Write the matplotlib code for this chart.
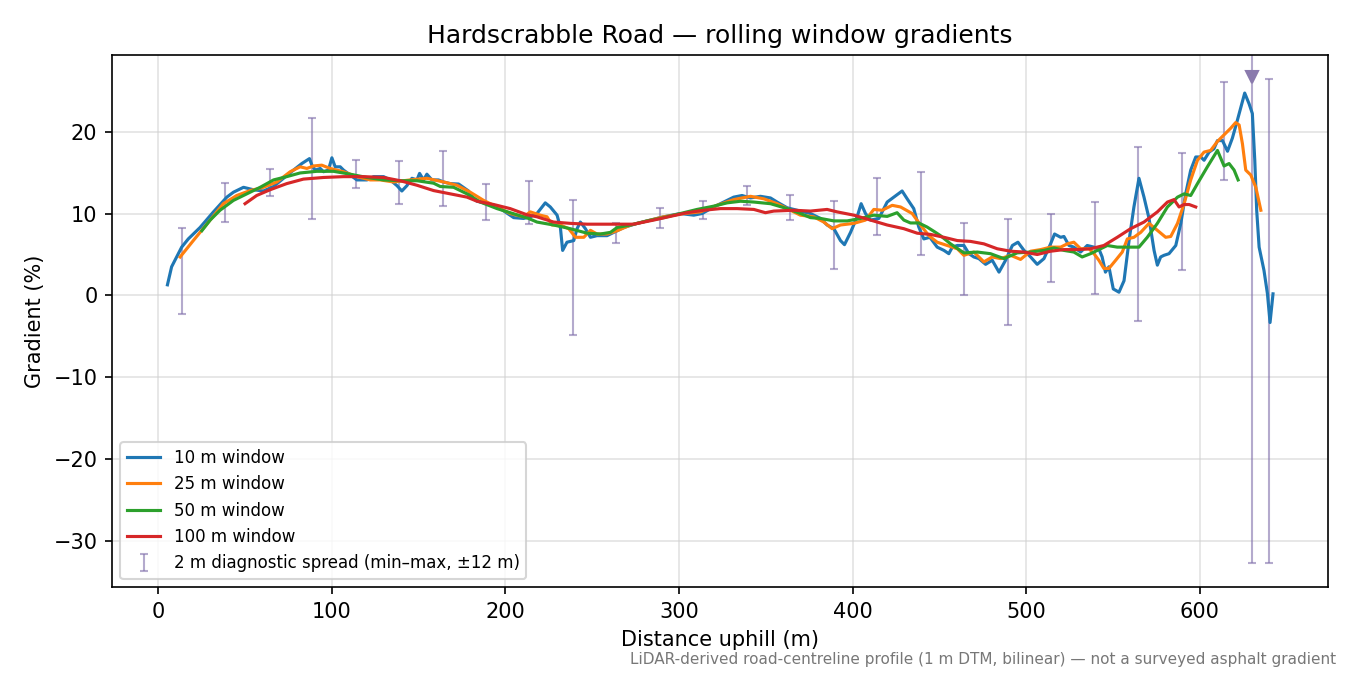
import matplotlib
matplotlib.use('Agg')
import matplotlib.pyplot as plt
import numpy as np

# rolling-window gradients
x10 = [5.4, 7.8, 10.7, 13.6, 17.4, 24.2, 31.9, 39.6, 43.4, 49.2, 54.9, 60.7, 66.5, 72.2, 78.0, 82.8,
       87.2, 88.6, 90.5, 93.4, 95.3, 98.1, 100.1, 102.0, 104.9, 106.8, 110.6, 114.5, 120.3, 124.1,
       129.9, 133.7, 137.6, 140.4, 143.3, 146.2, 149.1, 150.6, 152.9, 154.8, 157.7, 161.5, 164.4,
       168.3, 173.1, 178.8, 181.7, 183.7, 189.4, 197.1, 204.8, 210.5, 214.4, 218.2, 223.0, 225.9,
       229.8, 231.7, 233.0, 235.5, 239.4, 241.3, 243.2, 246.1, 249.0, 252.8, 258.6, 262.4, 268.2,
       275.9, 283.5, 291.2, 300.8, 308.5, 313.3, 320.0, 325.8, 331.5, 336.3, 341.2, 346.9, 352.7,
       356.5, 362.3, 368.0, 375.7, 381.5, 385.3, 389.2, 393.0, 395.3, 398.8, 402.6, 404.9, 407.4,
       410.3, 415.1, 419.9, 423.7, 428.5, 431.4, 435.2, 438.1, 441.0, 444.5, 448.7, 452.6, 455.4,
       457.4, 460.3, 464.1, 467.0, 469.8, 472.7, 476.6, 480.4, 484.3, 488.1, 492.0, 495.2, 498.7,
       502.5, 506.3, 510.2, 514.0, 516.3, 519.8, 521.7, 524.6, 527.4, 531.3, 535.1, 539.0, 541.8,
       543.7, 545.6, 547.6, 550.1, 553.4, 556.3, 559.2, 562.0, 564.9, 567.8, 570.7, 573.6, 575.5,
       577.4, 579.3, 582.2, 586.1, 589.0, 591.8, 594.7, 597.6, 600.5, 602.4, 605.3, 608.1, 610.1,
       613.0, 615.9, 618.7, 621.6, 625.8, 628.3, 630.2, 631.6, 632.7, 634.1, 636.9, 638.9, 640.4,
       642.1]
g10 = [1.3, 3.5, 4.7, 5.9, 6.9, 8.3, 10.2, 12.0, 12.6, 13.2, 12.9, 12.75, 13.3, 14.3, 15.3, 16.1,
       16.7, 15.9, 15.3, 15.5, 15.1, 15.3, 16.8, 15.7, 15.7, 15.3, 14.7, 14.1, 14.1, 14.5,
       14.5, 14.1, 13.4, 12.75, 13.4, 14.3, 14.1, 14.9, 14.1, 14.8, 14.1, 14.1, 13.85,
       13.65, 13.6, 12.75, 11.8, 11.5, 11.2, 10.6, 9.5, 9.4, 9.6, 10.0, 11.3, 10.8,
       9.8, 8.3, 5.5, 6.5, 6.7, 8.15, 8.96, 8.15, 7.1, 7.3, 7.3, 7.7, 8.3,
       8.8, 9.2, 9.6, 10.0, 9.8, 10.0, 10.8, 11.4, 12.0, 12.2, 11.9, 12.1, 11.9,
       11.4, 10.7, 10.4, 10.0, 9.4, 8.6, 8.15, 6.7, 6.2, 7.7, 9.6, 11.2, 10.0,
       9.2, 9.4, 11.4, 12.0, 12.75, 11.8, 10.6, 8.35, 6.9, 7.1, 5.9, 5.5, 5.1,
       5.9, 6.1, 6.1, 5.1, 4.7, 4.5, 3.8, 4.3, 2.85, 4.3, 6.1, 6.5, 5.5,
       4.7, 3.8, 4.5, 6.3, 7.5, 7.1, 7.2, 6.1, 5.9, 5.3, 6.1, 5.9, 5.7,
       4.7, 2.85, 3.5, 0.8, 0.4, 1.8, 6.7, 10.8, 14.3, 12.0, 9.4, 5.5, 3.7,
       4.7, 4.9, 5.1, 6.1, 8.8, 12.4, 15.3, 16.9, 16.9, 16.5, 17.5, 17.9, 18.9,
       18.9, 17.6, 19.2, 21.4, 24.7, 23.4, 22.2, 16.5, 10.4, 5.9, 3.06, 0.2, -3.3,
       0.2]

x25 = [12.7, 20.3, 30.0, 37.6, 45.3, 53.0, 60.7, 68.4, 76.1, 81.8, 85.7, 89.5, 94.3, 99.1, 106.8,
       114.5, 122.2, 127.9, 135.6, 145.2, 154.8, 164.4, 172.1, 179.8, 187.5, 195.2, 202.8, 210.5,
       214.4, 220.1, 224.0, 226.9, 231.7, 236.5, 240.4, 245.2, 249.0, 252.8, 258.6, 264.4, 272.1,
       281.7, 291.2, 302.7, 312.3, 321.9, 331.5, 341.2, 348.8, 356.5, 362.3, 369.9, 377.6, 383.4,
       388.2, 393.0, 400.7, 407.4, 412.2, 417.0, 422.8, 427.6, 434.3, 439.1, 443.9, 448.7, 454.5,
       460.3, 464.1, 469.8, 475.6, 480.4, 485.2, 491.0, 496.7, 502.5, 508.3, 514.0, 519.8, 523.6,
       527.4, 531.3, 536.1, 539.0, 541.8, 544.7, 547.6, 551.5, 555.3, 558.2, 562.0, 565.9, 570.7,
       575.5, 580.3, 583.2, 587.1, 590.9, 594.7, 598.6, 602.4, 606.2, 610.1, 613.9, 617.7, 620.6,
       622.6, 624.5, 626.4, 629.3, 632.2, 635.1]
g25 = [4.7, 6.7, 9.2, 11.2, 12.2, 12.8, 13.2, 13.85, 15.1, 15.7, 15.5, 15.8, 15.9, 15.5, 15.1,
       14.5, 14.1, 14.1, 13.85, 14.1, 14.3, 13.85, 13.45, 12.6, 11.6, 10.8, 10.0, 9.6,
       10.2, 9.8, 9.6, 8.6, 8.6, 8.15, 7.1, 7.1, 7.95, 7.5, 7.5, 7.9, 8.6,
       9.1, 9.6, 10.0, 10.2, 11.0, 11.7, 12.1, 11.8, 11.2, 10.6, 9.8, 9.6, 8.96,
       8.15, 8.6, 8.8, 9.2, 10.5, 10.4, 11.0, 10.8, 10.0, 8.6, 7.3, 6.5, 6.1,
       5.7, 4.9, 5.3, 4.1, 4.7, 4.5, 4.9, 4.4, 5.4, 5.6, 5.9, 5.9, 6.3,
       6.5, 5.7, 5.7, 5.1, 4.3, 3.3, 3.3, 4.3, 5.3, 6.9, 7.1, 7.7, 8.8,
       7.95, 7.1, 7.2, 8.8, 11.2, 14.1, 16.5, 17.5, 17.7, 18.8, 19.6, 20.4, 21.1,
       20.8, 18.5, 15.3, 14.7, 13.2, 10.4]

x50 = [25.2, 30.0, 35.7, 43.4, 51.1, 58.8, 66.5, 74.1, 81.8, 91.4, 101.0, 110.6, 120.3, 129.9,
       139.5, 149.1, 158.7, 162.5, 170.2, 177.9, 185.6, 195.2, 202.8, 213.4, 218.2, 227.8, 237.4,
       247.1, 254.7, 260.5, 264.4, 272.1, 281.7, 291.2, 300.8, 310.4, 320.0, 327.7, 335.4, 343.1,
       352.7, 362.3, 370.0, 375.7, 381.5, 389.2, 396.9, 404.6, 412.2, 419.9, 425.6, 429.5, 433.3,
       438.1, 442.9, 447.0, 450.6, 456.4, 464.1, 471.8, 479.4, 487.1, 494.8, 502.5, 510.2, 516.0,
       521.7, 527.4, 532.2, 537.0, 540.9, 546.7, 552.4, 560.1, 564.9, 569.7, 575.5, 581.3, 587.1,
       590.9, 594.7, 598.6, 604.3, 610.1, 613.9, 616.8, 619.7, 622.0]
g50 = [7.9, 9.2, 10.4, 11.6, 12.4, 13.2, 14.1, 14.5, 14.95, 15.15, 15.15, 14.8, 14.4, 14.1,
       14.0, 14.0, 13.7, 13.3, 13.2, 12.4, 11.4, 10.6, 10.1, 9.4, 8.96, 8.6, 8.15,
       7.6, 7.5, 7.7, 8.3, 8.6, 9.1, 9.5, 10.0, 10.5, 10.9, 11.3, 11.5, 11.4,
       11.2, 10.6, 10.0, 9.5, 9.4, 9.1, 9.1, 9.4, 9.8, 9.65, 10.1, 9.2, 8.85,
       8.85, 8.35, 7.8, 7.3, 6.3, 5.2, 5.3, 5.1, 4.5, 5.2, 5.3, 5.5, 5.8,
       5.5, 5.3, 4.7, 5.1, 5.5, 6.1, 5.9, 5.9, 5.9, 7.1, 8.8, 10.8, 12.0,
       12.4, 12.2, 13.65, 15.7, 17.7, 15.8, 16.1, 15.3, 14.1]

x100 = [50.1, 56.8, 64.5, 74.1, 83.7, 95.3, 106.8, 118.3, 129.9, 139.5, 149.1, 158.7, 168.3,
        177.9, 183.7, 193.3, 202.8, 212.4, 218.2, 227.8, 237.4, 247.1, 262.4, 273.9, 285.4, 295.0,
        304.6, 314.2, 323.9, 333.5, 343.1, 349.8, 354.6, 366.1, 375.7, 385.3, 391.1, 400.7, 410.3,
        419.9, 429.5, 437.2, 444.9, 452.6, 460.3, 467.9, 475.6, 483.3, 491.0, 498.7, 506.3, 514.0,
        521.7, 529.4, 537.0, 544.7, 552.4, 560.1, 567.8, 575.5, 581.3, 585.1, 588.0, 590.9, 593.8,
        597.6]
g100 = [11.2, 12.2, 12.9, 13.65, 14.2, 14.4, 14.5, 14.5, 14.4, 14.0, 13.45, 12.8, 12.4,
        12.0, 11.5, 11.1, 10.6, 9.85, 9.6, 8.96, 8.8, 8.7, 8.7, 8.7, 9.2, 9.65,
        10.1, 10.4, 10.6, 10.6, 10.5, 10.1, 10.3, 10.4, 10.3, 10.5, 10.2, 9.8, 9.2,
        8.6, 8.15, 7.6, 7.45, 7.1, 6.7, 6.6, 6.3, 5.7, 5.4, 5.3, 5.0, 5.4,
        5.6, 5.6, 5.7, 6.1, 7.1, 8.15, 8.96, 10.2, 11.4, 11.7, 10.8, 11.1, 11.1,
        10.8]

# 2 m diagnostic spread (min / max within +-12 m)
spread_x = [13.8, 38.6, 64.2, 88.6, 113.9, 138.9, 164.0, 188.8, 213.8, 239.0, 263.8, 289.3, 313.9,
            339.2, 364.2, 389.4, 414.3, 439.1, 464.3, 489.3, 514.4, 539.4, 564.6, 589.5, 614.1,
            629.9, 639.8]
spread_max = [8.2, 13.7, 15.4, 21.7, 16.5, 16.4, 17.6, 13.6, 14.0, 11.7, 8.9, 10.7, 11.5,
              13.3, 12.3, 11.5, 14.3, 15.1, 8.9, 9.3, 9.9, 11.4, 18.1, 17.4, 26.1,
              48.0, 26.4]
spread_min = [-2.2, 9.0, 12.1, 9.3, 13.1, 11.2, 10.9, 9.25, 8.7, -4.85, 6.4, 8.2, 9.3,
              11.0, 9.2, 3.2, 7.4, 4.9, 0.0, -3.6, 1.6, 0.2, -3.1, 3.1, 14.1,
              -32.7, -32.7]

ylo, yhi = -35.6, 29.3

fig, ax = plt.subplots(figsize=(9, 4.5), dpi=150)

ax.plot(x10, g10, color='C0', lw=1.5, label='10 m window', zorder=3)
ax.plot(x25, g25, color='C1', lw=1.5, label='25 m window', zorder=3)
ax.plot(x50, g50, color='C2', lw=1.5, label='50 m window', zorder=3)
ax.plot(x100, g100, color='C3', lw=1.5, label='100 m window', zorder=3)

sx = np.array(spread_x)
smax = np.array(spread_max)
smin = np.array(spread_min)
mid = (smax + smin) / 2
ax.errorbar(sx, mid, yerr=[mid - smin, smax - mid], fmt='none', ecolor='#8272ad',
            alpha=0.6, elinewidth=1.0, capsize=2, capthick=1.0, zorder=2,
            label='2 m diagnostic spread (min\u2013max, \u00b112 m)')

# bars running off the top get a marker
clip = smax > yhi
ax.plot(sx[clip], np.full(clip.sum(), yhi - 2.7), 'v', color='#8a7aad', ms=6, zorder=4)

ax.set_ylim(ylo, yhi)
ax.set_xlim(-26.5, 674)
ax.grid(True, color='#d0d0d0', alpha=0.6, lw=0.8)
ax.set_xlabel('Distance uphill (m)')
ax.set_ylabel('Gradient (%)')
ax.set_title('Hardscrabble Road \u2014 rolling window gradients', fontsize=12)
ax.legend(loc='lower left', fontsize=8)

fig.text(0.99, 0.012, 'LiDAR-derived road-centreline profile (1 m DTM, bilinear) \u2014 not a surveyed asphalt gradient',
         ha='right', va='bottom', fontsize=7.3, color='#777777')

fig.subplots_adjust(left=0.083, right=0.984, top=0.918, bottom=0.13)
fig.savefig('out.png', dpi=150)
